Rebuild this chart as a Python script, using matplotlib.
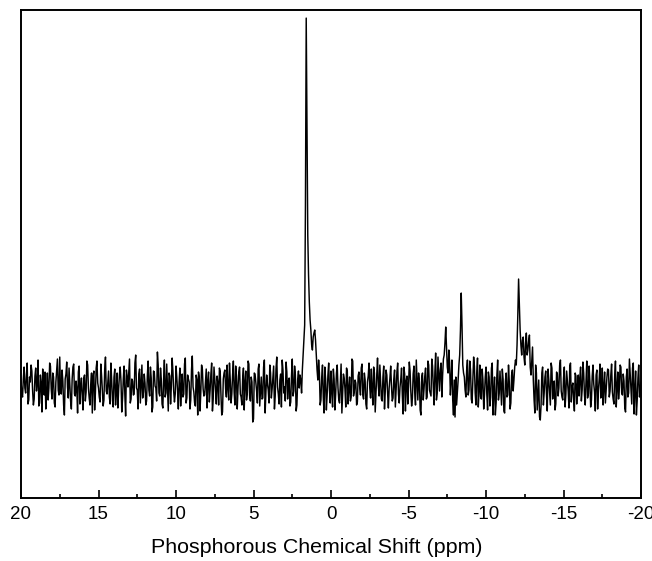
import numpy as np
import matplotlib
matplotlib.use("Agg")
import matplotlib.pyplot as plt
from matplotlib.ticker import MultipleLocator

plt.rcParams['font.family'] = ['Liberation Sans', 'DejaVu Sans']

# chemical shift axis (ppm), 20 -> -20 in 0.1 ppm steps
ppm_start = 20.0
ppm_stop = -20.0
# intensity on the 0.1 ppm grid (arbitrary units, baseline = 0)
intensity = [
    5, -12, 18, -8, 22, -15, 3, 14, -20, 9, -6, 25, -18, 2, 16, -10, -24, 12, -3, 19,
    -14, 8, -22, 15, -5, 28, -9, 4, -30, 11, -2, 17, -16, 6, 21, -11, -4, 13, -19, 7,
    -25, 10, -7, 20, -13, 1, -28, 14, -8, 24, -3, -17, 9, -21, 16, -6, 3, -12, 22, -15,
    8, -20, 12, -4, 18, -27, 6, -10, 15, -2, 26, -14, 4, -9, 30, -5, 11, -18, 20, -7,
    2, -16, 24, -11, 7, -22, 13, -3, 33, -8, 17, -19, 5, -12, 21, -26, 9, -1, 14, -17,
    19, -6, 3, -21, 11, -9, 27, -13, 6, -24, 15, -2, -18, 10, -30, 8, -7, 16, -11, 4,
    -23, 13, -5, 22, -14, 7, -19, 2, 17, -10, -27, 12, -4, 20, -15, 5, -9, 24, -20, 9,
    -3, 18, -12, 6, -25, 14, -8, 21, -16, 3, -34, 11, -6, 16, -21, 8, -13, 25, -7, 1,
    -18, 12, -4, 19, -11, 28, -9, 5, -22, 15, -2, 23, -14, 7, -17, 26, -6, 10, -20, 14,
    10, -8, 30, 60, 367, 150, 83, 55, 35, 52, 45, 15, 25, -20, 8, -12, 18, -25, 10, -5,
    14, -22, 6, -9, 20, -15, 3, -28, 11, -4, 17, -19, 8, -12, 24, -7, 2, -17, 13, -10,
    21, -14, 5, -24, 9, -3, 16, -20, 12, -8, 27, -11, 4, -16, 19, -6, 10, -23, 7, -1,
    -13, 15, -5, 22, -18, 6, -10, 18, -26, 9, -2, 14, -21, 11, -7, 25, -15, 3, -30, 12,
    -4, 17, -12, 20, -8, 26, -3, 13, -15, 28, -6, 22, 10, 30, 58, 18, 35, -10, 25, -30,
    -32, -20, 5, 30, 92, 20, 8, -12, 25, -5, 15, -18, 28, -8, 12, -22, 20, -14, 5, -10,
    18, -25, 8, -12, 22, -6, -30, 10, -15, 14, -20, 6, -28, 12, -10, 3, -18, 15, 5, 25,
    40, 106, 55, 30, 48, 20, 52, 35, 50, 10, 38, -15, 20, -25, 5, -35, 12, -20, 8, -10,
    16, -8, 22, -14, 4, -19, 11, -3, 25, -12, 7, -22, 14, -6, 19, -17, 2, -26, 9, -1,
    -11, 18, -5, 12, -20, 24, -9, 3, -15, 20, -7, 10, -24, 6, -13, 17, -2, -18, 8, 15,
    -6, 21, -14, 9, -22, 13, -3, 18, -10, 4, -27, 16, -8, 11, -19, 22, -5, -30, 7, -12,
    3,
]
# intensity at the half-step points (20-0.05 ... -20+0.05 ppm)
intensity_mid = [
    -9, 6, -3, 11, -19, 8, 20, -6, -14, 17, 2, -21, 10, -27, 5, 13, -8, -15, 22, -4,
    12, -18, 3, 26, -10, -7, 15, -20, 6, 23, -13, 1, -24, 18, -9, 4, -28, 19, -2, -11,
    7, -16, 24, -3, -20, 12, 9, -25, 17, 2, -12, 21, -6, -15, 28, -9, 14, -19, 5, -22,
    16, -6, -23, 10, 4, -14, 19, -31, 8, 12, -18, 6, -10, 22, -3, -24, 16, 1, -13, 11,
    -20, 9, -5, 18, -27, 14, -1, -16, 20, -11, 6, -23, 25, -8, -3, 12, -19, 27, -6, -9,
    8, -24, 17, -2, -12, 21, -18, 10, 3, -15, 29, -7, -21, 5, 13, -26, 20, -4, -10, 16,
    4, -17, 11, -26, 18, -5, 9, -20, 14, -30, 6, 15, -12, -3, 22, -18, 10, -7, 19, -24,
    13, -9, -20, 17, 2, -15, 24, -11, 8, -37, 12, 3, -18, 21, -6, -14, 18, -28, 10, -5,
    20, -13, 7, -24, 16, -2, -19, 11, 25, -8, -16, 13, 4, -21, 9, -11, 19, -26, 6, -3,
    5, 15, 45, 180, 260, 110, 65, 40, 48, 55, 30, 5, 12, -15, 20, -28, 6, -10, 22, -18,
    -6, 16, -25, 12, -3, -18, 21, -9, 7, -22, 14, -4, -16, 26, -11, 5, -20, 9, -2, 17,
    -10, 12, -19, 3, 22, -13, -5, 18, -27, 10, -1, 20, -14, 8, -24, 15, -8, -3, 19, -16,
    6, -22, 13, -9, -2, 17, -29, 11, 4, -19, 23, -7, -13, 19, -20, 6, 12, -25, 8, -15,
    9, -14, 24, -5, -11, 19, -20, 32, -8, 12, 15, -12, 26, 42, 38, 12, 22, 5, -15, 5,
    8, -8, 20, 55, 60, 12, -5, 15, -10, 24, -14, 6, 19, -20, 27, -6, -12, 16, -24, 8,
    -9, 13, -21, 17, -30, 8, -18, 25, -8, -2, 16, -26, 4, -12, 20, -24, 10, -6, 18, 20,
    70, 80, 40, 45, 28, 42, 30, 44, 18, 25, 5, -28, 12, -10, -32, -20, 18, -8, 14, -26,
    5, -20, 17, 3, -25, 13, -11, 20, -6, -15, 18, -9, 4, -23, 22, -2, -14, 12, -19, 10,
    7, -16, 23, -10, 4, -13, 19, -22, 9, 1, -26, 15, -5, 21, -9, -20, 13, -4, 16, -12,
    10, -7, -19, 24, -3, -14, 20, -8, 11, -23, 8, -12, 26, -5, 17, -29, 14, -16, 20, -3,
]
xticks = [20, 15, 10, 5, 0, -5, -10, -15, -20]
xlabel = "Phosphorous Chemical Shift (ppm)"

shift_a = np.linspace(ppm_start, ppm_stop, len(intensity))
step = shift_a[1] - shift_a[0]
shift_b = shift_a[:-1] + step / 2
shift = np.empty(len(shift_a) + len(shift_b))
shift[0::2] = shift_a
shift[1::2] = shift_b
signal = np.empty_like(shift)
signal[0::2] = intensity
signal[1::2] = intensity_mid

fig = plt.figure(figsize=(6.52, 5.61), dpi=100)
ax = fig.add_axes([0.0322, 0.1123, 0.9510, 0.8697])
ax.plot(shift, signal, color='black', linewidth=1.05)
ax.set_xlim(20, -20)
ax.set_ylim(-113, 375)
ax.set_xticks(xticks)
ax.set_xticklabels([str(t) for t in xticks])
ax.xaxis.set_minor_locator(MultipleLocator(2.5))
ax.set_yticks([])
ax.tick_params(axis='x', which='major', direction='in', length=6, width=1.2,
               labelsize=13.5, pad=6, top=False)
ax.tick_params(axis='x', which='minor', direction='in', length=3, width=1.2, top=False)
for s in ax.spines.values():
    s.set_linewidth(1.4)
ax.set_xlabel(xlabel, fontsize=15.4)
ax.xaxis.set_label_coords((317 - 21) / 620, -0.102)
ax.xaxis.label.set_verticalalignment('center')
fig.savefig("out.png", dpi=100)
